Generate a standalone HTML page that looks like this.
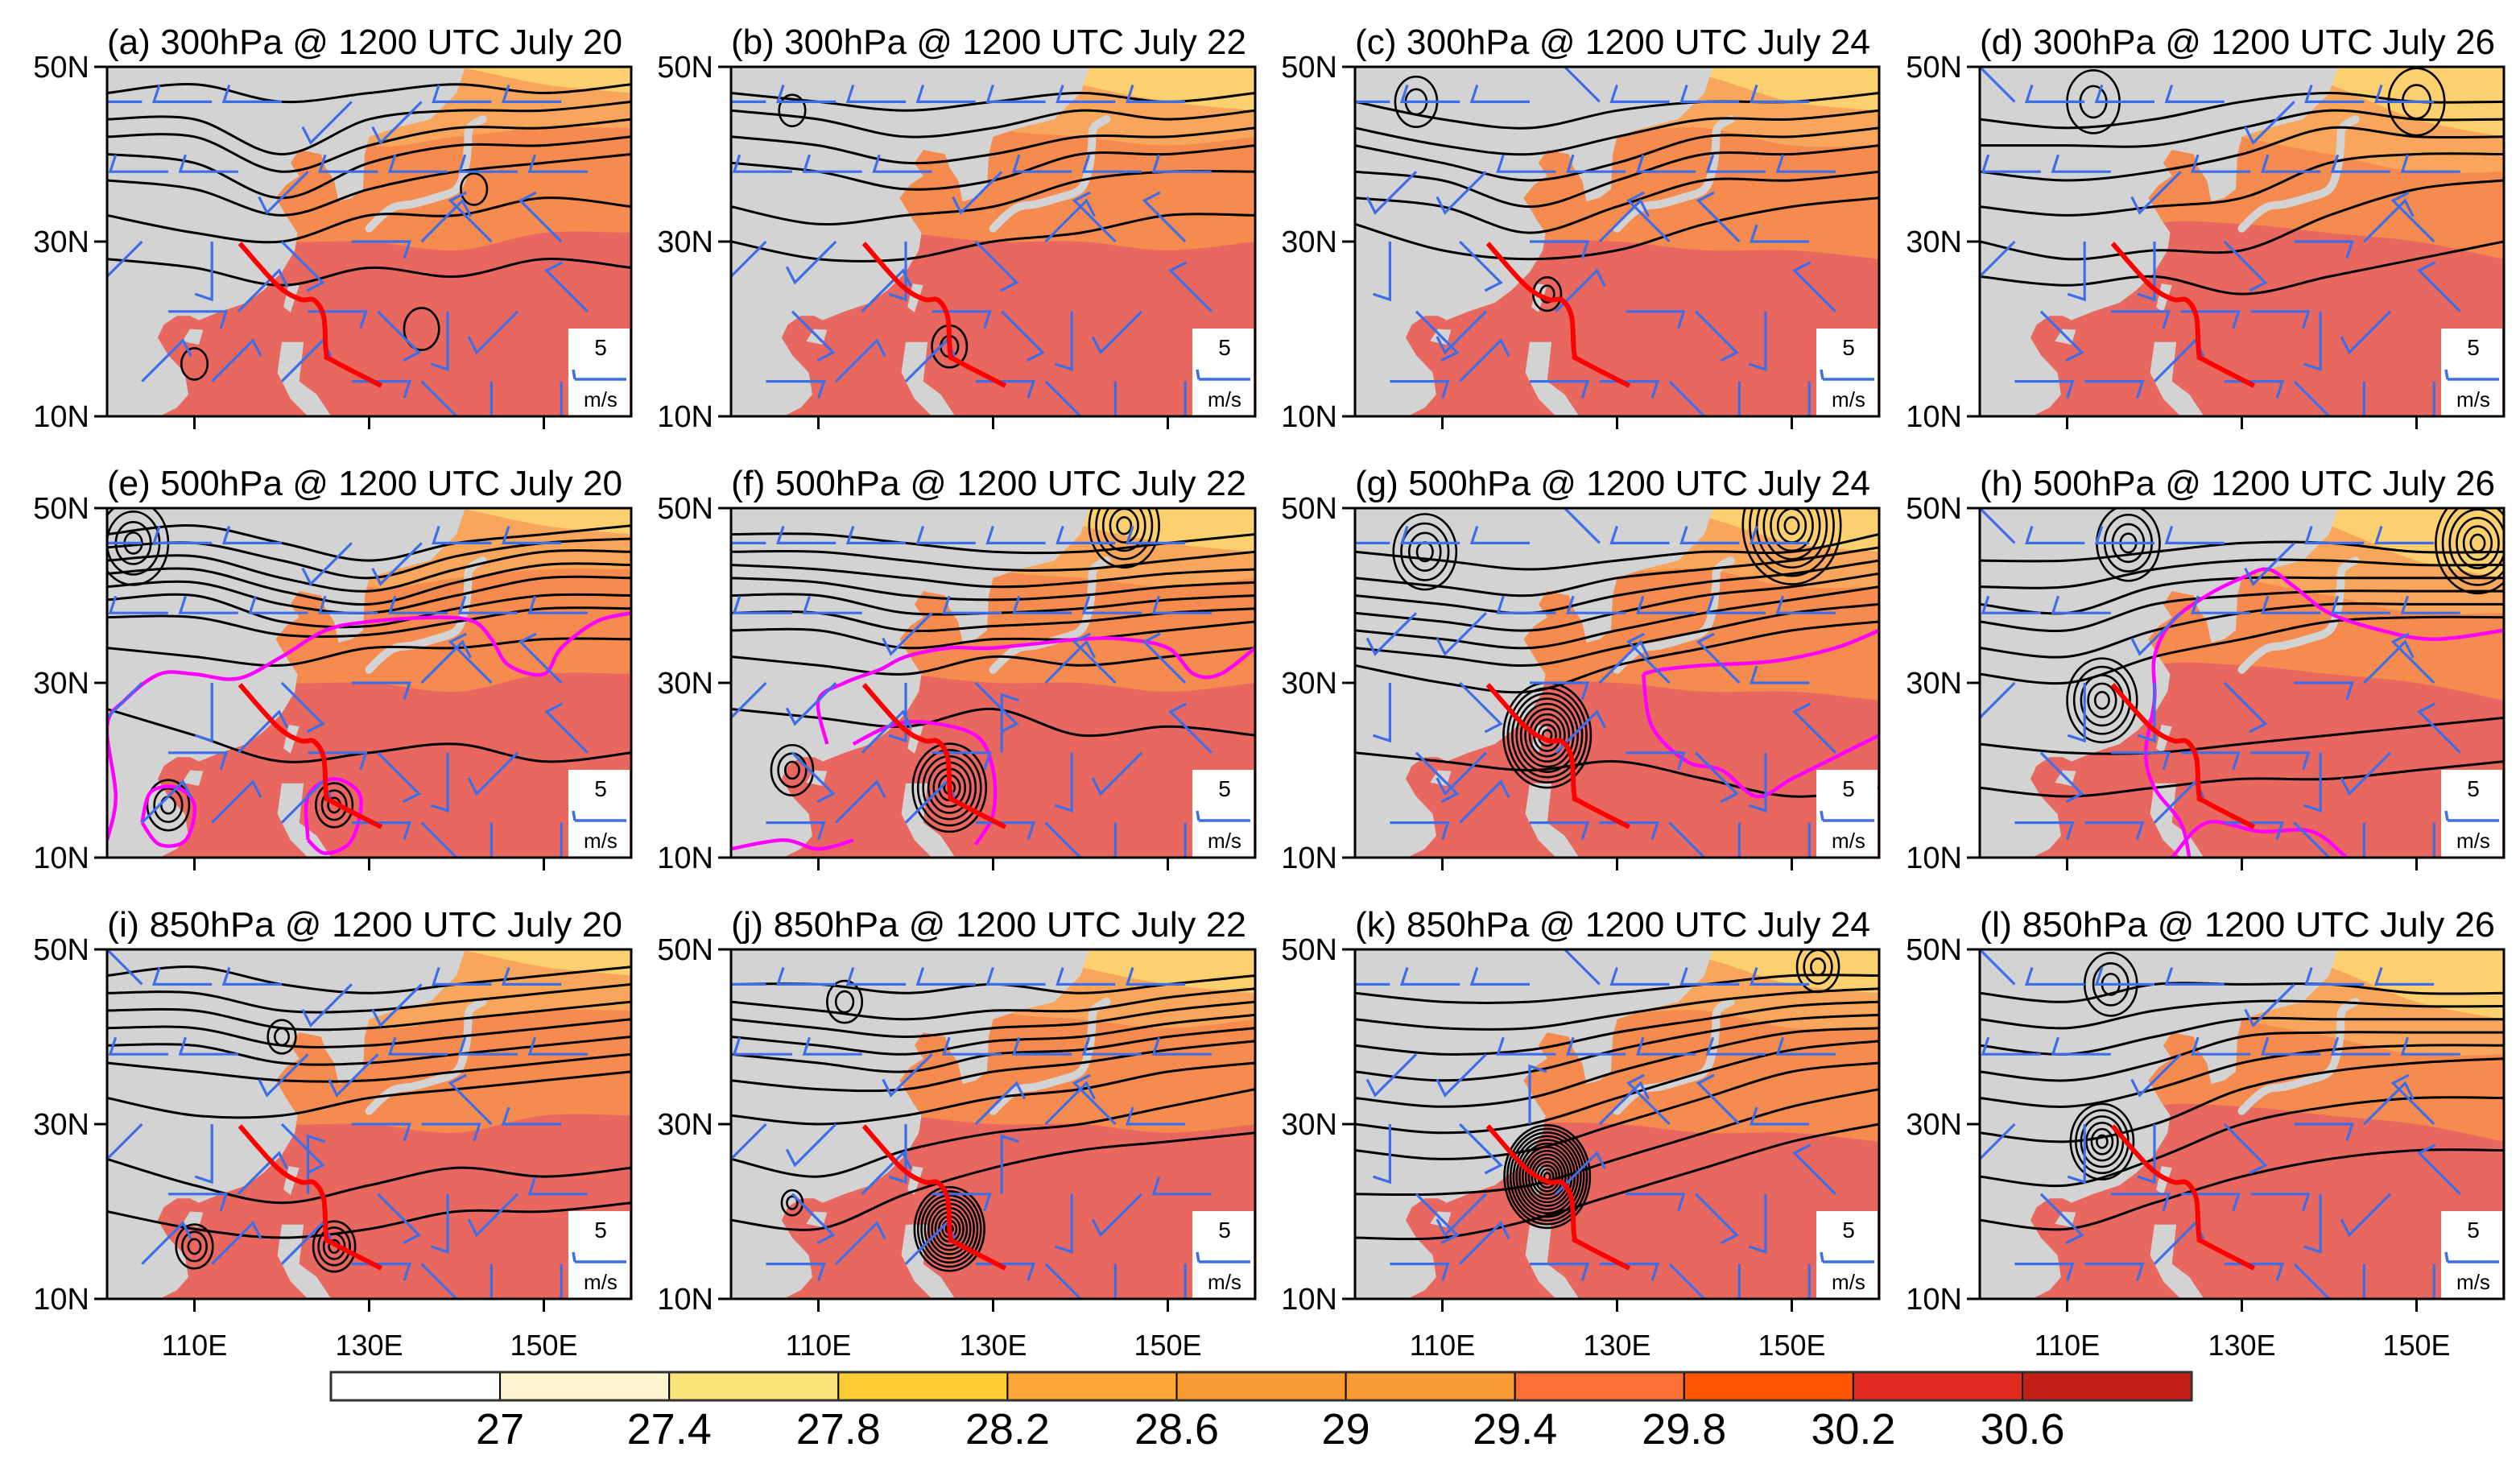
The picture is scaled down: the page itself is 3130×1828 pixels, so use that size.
<!DOCTYPE html>
<html><head><meta charset="utf-8"><style>
html,body{margin:0;padding:0;background:#fff;}
svg{display:block;font-family:"Liberation Sans",sans-serif;}
</style></head><body>
<svg id="fig" width="3130" height="1828" viewBox="0 0 3130 1828" xmlns="http://www.w3.org/2000/svg">
<rect width="3130" height="1828" fill="#fff"/>
<g id="panels"></g>
<g id="cbar"></g>
</svg>
<script>
// ---- data ----
const levels = ["300hPa","500hPa","850hPa"];
const dates = ["July 20","July 22","July 24","July 26"];
const letters = "abcdefghijkl";
const latTicks = [50,30,10];
const lonTicks = [110,130,150];
const sstLons = [100,110,120,130,140,150,160];
const sstOrange = [[36,31,30,30,29,31,31],[32,32,31,30,30,29,30],[30,28,30,30,29,29,28],[30,28,32,32,31,30,28]];
const sstLight = [[50,50,45,41,42,43,43],[50,50,47,43,42,41,42],[50,50,46,43,43,41,41],[50,50,45,42,40,38,38]];
const sstYellow = [[51,51,51,51,50,48,47],[51,51,51,51,48,46,45],[51,51,51,51,49,46,45],[51,51,51,51,48,44,42]];
const cbLabels = ["27","27.4","27.8","28.2","28.6","29","29.4","29.8","30.2","30.6"];
const cbColors = ["#ffffff","#fff5d1","#fde478","#fdcb34","#fca736","#fa9a33","#f99a33","#fc6f35","#fd5502","#e22a21","#c41f17"];
const trackLon = [115.2,119.5,122.1,123.7,124.8,125.1,125.8,131.4];
const trackLat = [29.8,25.0,23.4,23.3,21.4,17.2,16.4,13.5];
const land = [[100,50],[141,50],[140,47],[137,44],[133,43],[130,42],[129.5,40],[129.3,36],[128,35],[126.5,34.6],[126,37],[125,38.5],[124.5,40],[122,40.5],[121,39],[122,37.5],[120.5,36.5],[119.3,35],[120.8,32.5],[121.8,31],[121.5,29],[120,26.5],[118,24.5],[116,23],[113,22],[110.5,21],[109.5,21.5],[108,21.5],[106.5,20.5],[105.8,19],[107,17],[108.9,15],[109.3,12.5],[108,11],[106,10],[100,10]];
const japan = [[130,31.5],[131.5,33],[133,34],[135,34.3],[137.5,35],[140,36],[141,38.5],[141.3,41],[141.5,43],[143,44]];
const phil = [[120,18.5],[122.5,18.5],[122,14],[124,12.5],[126,9.5],[124,9],[121,12],[119.5,15]];
const taiwan = [[120.2,22.5],[120.8,25.2],[122,25],[121,21.9]];
const hainan = [[108.6,18.6],[109.5,20],[111,19.9],[110.5,18.2]];
// contour lines: latitude at lons 100..160 step 10
const contours = [
 [[47,48,46,47,48,47,48],[44,44,40,44,45,45,46],[42,42,38,41,43,43,44],[40,39,35,39,41,41,42],[37,36,33,36,38,39,40],[33,31,30,33,33,35,34],[28,27,25,27,26,28,27]],
 [[47,46,45,46,47,46,47],[45,44,42,43,45,44,45],[42,41,39,40,42,42,43],[39,38,36,37,40,40,41],[34,32,33,34,37,38,38],[30,28,28,30,31,33,33]],
 [[46,44,43,45,46,46,47],[43,41,40,42,44,44,45],[41,39,37,39,42,42,43],[38,37,34,37,40,40,41],[35,34,31,34,37,37,38],[32,29,28,29,32,34,35]],
 [[44,43,44,46,47,46,46],[41,41,41,43,45,44,44],[38,37,38,40,43,42,42],[34,33,34,35,39,40,40],[30,28,29,29,33,36,37],[26,25,26,24,26,28,30]],
 [[47,48,46,44,46,47,48],[45.5,46,44,42,44.5,46,46.5],[44,44.5,42,40.5,43,45,45],[42.5,43,40.5,39,41.5,43.5,43.5],[41,41.5,39,38,40,42,42],[39.5,40,37,36.5,38.5,40,40],[37.5,37.5,35.5,35.5,37,38.5,38.5],[34,33,32,34,34,35,35],[27,24,21,22,23,21,22]],
 [[47,47,46,45,45,46,47],[45,45,44,43,43,44,45],[43.5,43,42,41,41.5,42.5,43],[42,41.5,40,39.5,40,41,41.5],[40,40,38,38,38.5,39.5,40],[38,38,36,36.5,37,38,38.5],[36,36,34,35,35,36,37],[33,32,31,33,32,33,34],[27,26,25,27,24,25,24]],
 [[45,44,43,44,45,45,47],[42,41,40,42,43,44,45.5],[40,39,38,40,41.5,42.5,44],[38,37,36,38,40,41,42.5],[36,35,34,36,38,39.5,41],[34,33,32,34,36,38,39],[32,30,29,32,34,36,37],[22,21,20,21,19,17,18]],
 [[44,44,45,46,46,45,45],[41,41,43,44,44,43.5,43.5],[39,38,41,42,42,42,42],[37,36,39,40,40.5,40.5,40.5],[34,33,36,38,39,39,39],[31,30,33,35,37,37.5,37.5],[23,22,22,23,24,25,26],[18,17,18,19,19,20,21]],
 [[47,48,46,45,46,47,48],[45,45,43,43,44,45,46],[43,43,41,41,42,43,44],[41,41,39,39,40,41,42],[39,39,37,37,38,39,40],[37,36,35,35,36,37,38],[33,31,31,33,34,35,36],[26,23,21,23,25,24,25],[20,18,17,18,20,20,21]],
 [[46,46,45,46,45,46,47],[44,43,42,43,43,44.5,45.5],[42,41,40,41,41.5,43,44],[40,39,38,39.5,40,41.5,42.5],[38,37,36,38,38.5,40,41],[35,34,34,36,37,38.5,39.5],[31,30,31,33,34,36,37],[26,24,27,29,30,32,34],[19,18,22,25,27,28,29]],
 [[45,44,44,45,46,47,47],[42,41,41,42.5,44,45,45.5],[39,38,38.5,40.5,42,43.5,44],[36,35,36,38.5,40.5,42,42.5],[33,32,33,36,38.5,40.5,41],[30,29,30,33,36,38.5,39.5],[27,26,27,30,33,36,37],[22,22,23,26,29,32,34],[17,17,19,22,25,28,30]],
 [[45,44,46,46,46,45,45],[42,41,43,44,44,43.5,43.5],[39,38,40,42,42,42,42],[36,35,37,40,40.5,40.5,40.5],[33,32,34,37,38.5,39,39],[29,28,30,34,36,37,37.5],[24,23,26,30,32,33,33],[19,18,21,24,26,27,27]]
];
// vortices: [lon, lat, rings, spacing(deg)]
const vortices = [
 [[142,36,1,1.5],[136,20,1,2],[110,16,1,1.5]],
 [[107,45,1,1.5],[125,18,2,1]],
 [[122,24,2,0.8],[107,46,2,1.2]],
 [[113,46,2,1.5],[150,46,2,1.6]],
 [[107,16,3,0.8],[126,16,3,0.7],[103,46,4,1]],
 [[125,18,7,0.6],[107,20,3,0.8],[145,48,5,0.8]],
 [[122,24,10,0.5],[108,45,4,0.9],[150,48,7,0.8]],
 [[114,28,5,0.8],[117,46,4,0.9],[157,46,6,0.8]],
 [[110,16,3,0.7],[126,16,4,0.6],[120,40,2,0.8]],
 [[125,18,10,0.4],[107,21,2,0.6],[113,44,2,1]],
 [[122,24,14,0.35],[153,48,3,0.8]],
 [[114,28,6,0.6],[115,46,3,1]]
];
const magenta = [
 null,null,null,null,
 [[[100,12],[101,17],[100,25],[102,28],[106,31],[110,31],[115,30.5],[120,33],[125,36],[130,37],[138,37.5],[142,37],[144,35],[146,32],[150,31],[152,34],[156,37],[160,38]],[[104,14],[105,17.5],[108,18],[110,16],[109,12],[106,11.5],[104,14]],[[123,12],[123,17],[126,19],[129,17],[128,12],[125,10.5],[123,12]]],
 [[[100,11],[106,12],[110,11],[114,12]],[[111,23],[110,28],[113,30],[117,31.5],[120,33],[125,34],[130,34],[140,35],[145,35],[150,34],[153,31],[156,31],[160,34]],[[114,23],[118,25],[122,25.5],[128,24],[130,20],[130,15],[128,11.5]]],
 [[[133,31],[135,31.5],[140,32],[148,32.5],[155,34],[160,36]],[[133,31],[134,25],[138,21],[142,20],[146,17],[150,19],[156,22],[160,24]]],
 [[[124,10],[123,14],[120,18],[119,22],[120,28],[120,33],[122,37],[126,40],[130,42],[133,43],[136,41],[140,38],[146,36],[152,35],[160,36]],[[122,10],[126,14],[132,13],[138,13],[142,10]]],
 null,null,null,null
];
// wind directions (from-sector, 0=N ... 7=NW), rows lat 46,38,30,22,14; cols lon 104..152 step 8
const winds = [
 "6665566","6656666","5432177","2123457","1112344",
 "6666666","6665666","5543177","3123457","2112344",
 "6667666","5566666","4321776","3512347","2122344",
 "7666566","6656666","5443217","3222457","2212344",
 "6665566","6666666","5432177","2123457","1112344",
 "6666666","6656666","5543177","3120457","2112344",
 "6667666","5566666","4321776","3512347","2122344",
 "7666566","6656666","5443217","3222457","2212344",
 "7665566","6655666","5432276","2103456","1112344",
 "6666666","6656666","5541176","3120456","2112344",
 "6667666","5566666","4301776","3512347","2122344",
 "7666566","6656666","5443217","3222457","2212344"
];
// ---- layout ----
const NS="http://www.w3.org/2000/svg";
const colL=[133,908,1683,2459], rowT=[83,631,1179], W=651, H=434, S=10.85;
function mk(tag,attrs,parent){const e=document.createElementNS(NS,tag);for(const k in attrs)e.setAttribute(k,attrs[k]);if(parent)parent.appendChild(e);return e;}
function catmull(pts,closed){
 if(pts.length<2)return"";
 let d="M"+pts[0][0].toFixed(1)+","+pts[0][1].toFixed(1);
 const n=pts.length;
 for(let i=0;i<n-1;i++){
  const p0=pts[i-1]||pts[i],p1=pts[i],p2=pts[i+1],p3=pts[i+2]||pts[i+1];
  const c1=[p1[0]+(p2[0]-p0[0])/6,p1[1]+(p2[1]-p0[1])/6],c2=[p2[0]-(p3[0]-p1[0])/6,p2[1]-(p3[1]-p1[1])/6];
  d+="C"+c1.map(v=>v.toFixed(1))+" "+c2.map(v=>v.toFixed(1))+" "+p2.map(v=>v.toFixed(1));
 }
 return d+(closed?"Z":"");
}
const root=document.getElementById('panels');
const defs=mk('defs',{},root);
for(let r=0;r<3;r++)for(let c=0;c<4;c++){
 const idx=r*4+c, L=colL[c], T=rowT[r];
 const X=lon=>L+(lon-100)*S, Y=lat=>T+(50-lat)*S;
 const P=(a)=>a.map(p=>[X(p[0]),Y(p[1])]);
 const g=mk('g',{},root);
 
 
 const cp=mk('clipPath',{id:'clip'+idx},defs); mk('rect',{x:L,y:T,width:W,height:H},cp);
 const title=mk('text',{x:L,y:T-16,'font-size':44,fill:'#000',textLength:640,lengthAdjust:'spacingAndGlyphs'},g);
 title.textContent="("+letters[idx]+") "+levels[r]+" @ 1200 UTC "+dates[c];
 
 
 const m=mk('g',{'clip-path':'url(#clip'+idx+')'},g);
 
 
 mk('rect',{x:L,y:T,width:W,height:H,fill:'#e8675f'},m);
 const band=(arr,col,name)=>{
  const top=sstLons.map((lo,i)=>[X(lo),Y(arr[c][i])]);
  const e=mk('path',{fill:col},m);
  e.setAttribute('d',"M"+X(100)+","+Y(52)+" L"+top[0][0]+","+top[0][1]+" "+catmull(top).replace(/^M[^C]*/,"")+" L"+X(160)+","+Y(52)+" Z");
  
  
 };
 band(sstOrange,'#f58b4e','sst-orange');
 band(sstLight,'#f8a65c','sst-light-orange');
 band(sstYellow,'#fcd06e','sst-yellow');
 for(const [poly,nm] of [[land,'land-asia'],[phil,'land-philippines'],[taiwan,'land-taiwan'],[hainan,'land-hainan']]){
  const e=mk('polygon',{points:P(poly).map(p=>p.join(',')).join(' '),fill:'#d3d3d3'},m);
  
  
 }
 const jp=mk('path',{d:catmull(P(japan)),stroke:'#d3d3d3','stroke-width':10,fill:'none','stroke-linecap':'round'},m);
 
 
 for(const line of contours[idx]){
  const e=mk('path',{d:catmull(sstLons.map((lo,i)=>[X(lo),Y(line[i])])),stroke:'#000','stroke-width':3,fill:'none'},m);
  
  
 }
 for(const v of vortices[idx]){
  for(let k=1;k<=v[2];k++){
   const e=mk('ellipse',{cx:X(v[0]),cy:Y(v[1]),rx:k*v[3]*S,ry:k*v[3]*S*1.2,stroke:'#000','stroke-width':2.6,fill:'none'},m);
   
   
  }
 }
 if(magenta[idx]) for(const ml of magenta[idx]){
  const e=mk('path',{d:catmull(P(ml)),stroke:'#ff00ff','stroke-width':4.5,fill:'none'},m);
  
  
 }
 const ws=winds.slice(idx*5,idx*5+5);
 for(let i=0;i<5;i++)for(let j=0;j<7;j++){
  const lat=46-8*i, lon=104+8*j+(i%2?3:0);
  const a=(+ws[i][j])*Math.PI/4;
  const x0=X(lon),y0=Y(lat),len=72;
  const x1=x0+Math.sin(a)*len,y1=y0-Math.cos(a)*len;
  const fa=a+Math.PI*0.6;
  const x2=x1+Math.sin(fa)*22,y2=y1-Math.cos(fa)*22;
  const e=mk('path',{d:`M${x0.toFixed(1)},${y0.toFixed(1)}L${x1.toFixed(1)},${y1.toFixed(1)}L${x2.toFixed(1)},${y2.toFixed(1)}`,stroke:'#3d6ee8','stroke-width':3.2,fill:'none'},m);
  
  
 }
 const tr=mk('path',{d:catmull(trackLon.map((lo,i)=>[X(lo),Y(trackLat[i])])),stroke:'#ff0000','stroke-width':6,fill:'none','stroke-linejoin':'round'},m);
 
 
 const lg=mk('g',{},g);
 
 
 mk('rect',{x:L+W-78,y:T+H-109,width:76,height:108,fill:'#fff'},lg);
 const t5=mk('text',{x:L+W-38,y:T+H-76,'font-size':28,'text-anchor':'middle'},lg); t5.textContent="5";
 mk('path',{d:`M${L+W-70},${T+H-46}L${L+W-6},${T+H-46}M${L+W-70},${T+H-46}L${L+W-72},${T+H-58}`,stroke:'#3d6ee8','stroke-width':3.5,fill:'none'},lg);
 const tm=mk('text',{x:L+W-38,y:T+H-12,'font-size':26,'text-anchor':'middle'},lg); tm.textContent="m/s";
 mk('rect',{x:L,y:T,width:W,height:H,fill:'none',stroke:'#000','stroke-width':3},g);
 for(const la of latTicks){
  mk('line',{x1:L-16,x2:L,y1:Y(la),y2:Y(la),stroke:'#000','stroke-width':3},g);
  const t=mk('text',{x:L-22,y:Y(la)+13,'font-size':38,'text-anchor':'end'},g);
  t.textContent=la+"N";
  
  
 }
 for(const lo of lonTicks){
  mk('line',{x1:X(lo),x2:X(lo),y1:T+H,y2:T+H+16,stroke:'#000','stroke-width':3},g);
  if(r===2){
   const t=mk('text',{x:X(lo),y:1683,'font-size':36,'text-anchor':'middle'},g);
   t.textContent=lo+"E";
   
   
  }
 }
}
const cb=document.getElementById('cbar');
const cbX=411, cbW=210.1, cbY=1704, cbH=35;
cbColors.forEach((col,i)=>{
 const e=mk('rect',{x:cbX+i*cbW,y:cbY,width:cbW,height:cbH,fill:col,stroke:'#000','stroke-width':2},cb);
 
 
});
mk('rect',{x:cbX,y:cbY,width:cbW*11,height:cbH,fill:'none',stroke:'#333','stroke-width':3},cb);
cbLabels.forEach((lb,i)=>{
 const t=mk('text',{x:cbX+(i+1)*cbW,y:1793,'font-size':54,'text-anchor':'middle'},cb);
 t.textContent=lb;
 
 
});
</script>
</body></html>
